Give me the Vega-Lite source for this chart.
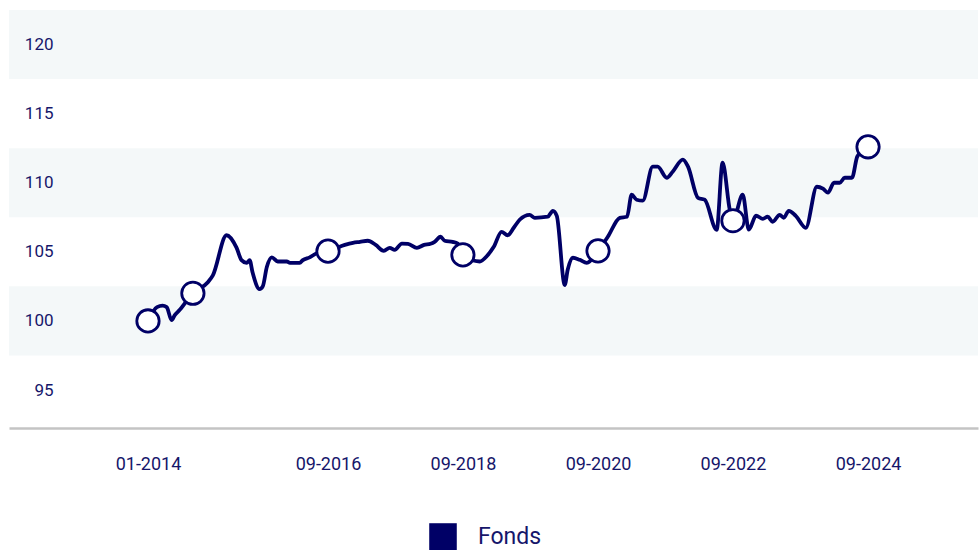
{
  "$schema": "https://vega.github.io/schema/vega-lite/v6.json",
  "width": 969,
  "height": 418,
  "autosize": {"type": "none"},
  "padding": {"left": 9, "top": 10, "right": 2, "bottom": 122},
  "background": "white",
  "config": {
    "view": {"stroke": null},
    "font": "Roboto",
    "axisY": {"domain": false, "ticks": false, "tickSize": 0, "grid": false, "labelPadding": -44, "labelFontSize": 17, "labelColor": "#16166a", "title": null, "labelOverlap": false},
    "axisX": {"domain": true, "domainColor": "#c4c4c4", "domainWidth": 2.5, "ticks": false, "tickSize": 0, "grid": false, "labelPadding": 27, "labelFontSize": 18, "labelColor": "#16166a", "title": null, "labelOverlap": false, "labelFlush": false}
  },
  "datasets": {
    "bands": [
      {"lo": 97.5, "hi": 102.5},
      {"lo": 107.5, "hi": 112.5},
      {"lo": 117.5, "hi": 122.5}
    ],
    "fund": [
      {"d": "2014-01-01", "v": 100.0, "s": "Fonds", "mk": 1},
      {"d": "2014-02-19", "v": 101.0, "s": "Fonds"},
      {"d": "2014-03-21", "v": 101.1, "s": "Fonds"},
      {"d": "2014-04-12", "v": 101.0, "s": "Fonds"},
      {"d": "2014-05-09", "v": 100.05, "s": "Fonds"},
      {"d": "2014-05-25", "v": 100.4, "s": "Fonds"},
      {"d": "2014-06-22", "v": 100.8, "s": "Fonds"},
      {"d": "2014-09-01", "v": 102.0, "s": "Fonds", "mk": 1},
      {"d": "2014-11-21", "v": 102.8, "s": "Fonds"},
      {"d": "2014-12-18", "v": 103.3, "s": "Fonds"},
      {"d": "2015-03-02", "v": 106.2, "s": "Fonds"},
      {"d": "2015-04-25", "v": 105.3, "s": "Fonds"},
      {"d": "2015-05-22", "v": 104.4, "s": "Fonds"},
      {"d": "2015-06-19", "v": 104.2, "s": "Fonds"},
      {"d": "2015-07-05", "v": 104.4, "s": "Fonds"},
      {"d": "2015-07-21", "v": 103.5, "s": "Fonds"},
      {"d": "2015-08-28", "v": 102.3, "s": "Fonds"},
      {"d": "2015-09-14", "v": 102.5, "s": "Fonds"},
      {"d": "2015-10-06", "v": 103.9, "s": "Fonds"},
      {"d": "2015-11-02", "v": 104.6, "s": "Fonds"},
      {"d": "2015-12-04", "v": 104.3, "s": "Fonds"},
      {"d": "2016-01-22", "v": 104.3, "s": "Fonds"},
      {"d": "2016-02-08", "v": 104.2, "s": "Fonds"},
      {"d": "2016-04-01", "v": 104.2, "s": "Fonds"},
      {"d": "2016-04-18", "v": 104.4, "s": "Fonds"},
      {"d": "2016-05-25", "v": 104.6, "s": "Fonds"},
      {"d": "2016-07-02", "v": 104.9, "s": "Fonds"},
      {"d": "2016-09-01", "v": 105.05, "s": "Fonds", "mk": 1},
      {"d": "2016-12-01", "v": 105.5, "s": "Fonds"},
      {"d": "2017-01-14", "v": 105.65, "s": "Fonds"},
      {"d": "2017-02-21", "v": 105.72, "s": "Fonds"},
      {"d": "2017-04-04", "v": 105.8, "s": "Fonds"},
      {"d": "2017-05-17", "v": 105.5, "s": "Fonds"},
      {"d": "2017-06-30", "v": 105.07, "s": "Fonds"},
      {"d": "2017-08-01", "v": 105.29, "s": "Fonds"},
      {"d": "2017-08-28", "v": 105.14, "s": "Fonds"},
      {"d": "2017-10-06", "v": 105.6, "s": "Fonds"},
      {"d": "2017-11-08", "v": 105.58, "s": "Fonds"},
      {"d": "2017-12-26", "v": 105.29, "s": "Fonds"},
      {"d": "2018-02-03", "v": 105.5, "s": "Fonds"},
      {"d": "2018-03-10", "v": 105.58, "s": "Fonds"},
      {"d": "2018-04-01", "v": 105.72, "s": "Fonds"},
      {"d": "2018-05-03", "v": 106.09, "s": "Fonds"},
      {"d": "2018-05-25", "v": 105.8, "s": "Fonds"},
      {"d": "2018-07-07", "v": 105.72, "s": "Fonds"},
      {"d": "2018-08-04", "v": 105.6, "s": "Fonds"},
      {"d": "2018-09-01", "v": 104.78, "s": "Fonds", "mk": 1},
      {"d": "2018-12-01", "v": 104.3, "s": "Fonds"},
      {"d": "2019-01-09", "v": 104.7, "s": "Fonds"},
      {"d": "2019-02-15", "v": 105.36, "s": "Fonds"},
      {"d": "2019-03-29", "v": 106.45, "s": "Fonds"},
      {"d": "2019-05-01", "v": 106.2, "s": "Fonds"},
      {"d": "2019-06-03", "v": 106.74, "s": "Fonds"},
      {"d": "2019-07-05", "v": 107.32, "s": "Fonds"},
      {"d": "2019-08-28", "v": 107.68, "s": "Fonds"},
      {"d": "2019-09-25", "v": 107.46, "s": "Fonds"},
      {"d": "2019-12-04", "v": 107.54, "s": "Fonds"},
      {"d": "2020-01-01", "v": 107.97, "s": "Fonds"},
      {"d": "2020-01-22", "v": 107.6, "s": "Fonds"},
      {"d": "2020-03-05", "v": 102.6, "s": "Fonds"},
      {"d": "2020-03-21", "v": 103.7, "s": "Fonds"},
      {"d": "2020-04-18", "v": 104.57, "s": "Fonds"},
      {"d": "2020-05-25", "v": 104.42, "s": "Fonds"},
      {"d": "2020-07-02", "v": 104.2, "s": "Fonds"},
      {"d": "2020-09-01", "v": 105.07, "s": "Fonds", "mk": 1},
      {"d": "2020-10-24", "v": 106.09, "s": "Fonds"},
      {"d": "2020-12-28", "v": 107.46, "s": "Fonds"},
      {"d": "2021-02-05", "v": 107.54, "s": "Fonds"},
      {"d": "2021-03-02", "v": 109.13, "s": "Fonds"},
      {"d": "2021-03-29", "v": 108.77, "s": "Fonds"},
      {"d": "2021-05-01", "v": 108.7, "s": "Fonds"},
      {"d": "2021-06-24", "v": 111.16, "s": "Fonds"},
      {"d": "2021-07-21", "v": 111.16, "s": "Fonds"},
      {"d": "2021-09-08", "v": 110.36, "s": "Fonds"},
      {"d": "2021-10-10", "v": 110.8, "s": "Fonds"},
      {"d": "2021-12-04", "v": 111.67, "s": "Fonds"},
      {"d": "2022-01-01", "v": 111.16, "s": "Fonds"},
      {"d": "2022-02-24", "v": 108.91, "s": "Fonds"},
      {"d": "2022-04-01", "v": 108.77, "s": "Fonds"},
      {"d": "2022-06-05", "v": 106.59, "s": "Fonds"},
      {"d": "2022-07-07", "v": 111.45, "s": "Fonds"},
      {"d": "2022-08-15", "v": 108.04, "s": "Fonds"},
      {"d": "2022-09-01", "v": 107.25, "s": "Fonds", "mk": 1},
      {"d": "2022-10-24", "v": 109.13, "s": "Fonds"},
      {"d": "2022-11-26", "v": 106.6, "s": "Fonds"},
      {"d": "2023-01-04", "v": 107.61, "s": "Fonds"},
      {"d": "2023-02-10", "v": 107.39, "s": "Fonds"},
      {"d": "2023-03-08", "v": 107.54, "s": "Fonds"},
      {"d": "2023-04-04", "v": 107.17, "s": "Fonds"},
      {"d": "2023-05-12", "v": 107.68, "s": "Fonds"},
      {"d": "2023-06-03", "v": 107.46, "s": "Fonds"},
      {"d": "2023-06-30", "v": 107.97, "s": "Fonds"},
      {"d": "2023-08-07", "v": 107.6, "s": "Fonds"},
      {"d": "2023-09-30", "v": 106.74, "s": "Fonds"},
      {"d": "2023-11-29", "v": 109.71, "s": "Fonds"},
      {"d": "2024-01-01", "v": 109.57, "s": "Fonds"},
      {"d": "2024-01-28", "v": 109.28, "s": "Fonds"},
      {"d": "2024-03-01", "v": 110.0, "s": "Fonds"},
      {"d": "2024-04-01", "v": 110.0, "s": "Fonds"},
      {"d": "2024-04-28", "v": 110.36, "s": "Fonds"},
      {"d": "2024-06-06", "v": 110.36, "s": "Fonds"},
      {"d": "2024-07-05", "v": 111.9, "s": "Fonds"},
      {"d": "2024-09-01", "v": 112.6, "s": "Fonds", "mk": 1}
    ]
  },
  "layer": [
    {
      "data": {"name": "bands"},
      "mark": {"type": "rect", "color": "#f4f8f9"},
      "encoding": {
        "y": {"field": "lo", "type": "quantitative", "scale": {"domain": [92.25, 122.5], "nice": false, "zero": false}, "axis": {"values": [95, 100, 105, 110, 115, 120], "zindex": 2}},
        "y2": {"field": "hi"}
      }
    },
    {
      "data": {"name": "fund"},
      "mark": {"type": "line", "interpolate": "monotone", "strokeWidth": 3.8, "strokeJoin": "round", "strokeCap": "round"},
      "encoding": {
        "x": {"field": "d", "type": "temporal", "scale": {"type": "utc", "domain": [{"year": 2011, "month": 12, "date": 11, "utc": true}, {"year": 2026, "month": 4, "date": 19, "utc": true}]}, "axis": {"zindex": 1, "format": "%m-%Y", "values": [{"year": 2014, "month": 1, "date": 1, "utc": true}, {"year": 2016, "month": 9, "date": 1, "utc": true}, {"year": 2018, "month": 9, "date": 1, "utc": true}, {"year": 2020, "month": 9, "date": 1, "utc": true}, {"year": 2022, "month": 9, "date": 1, "utc": true}, {"year": 2024, "month": 9, "date": 1, "utc": true}]}},
        "y": {"field": "v", "type": "quantitative", "axis": {"values": [95, 100, 105, 110, 115, 120], "zindex": 2}},
        "color": {"field": "s", "type": "nominal", "scale": {"range": ["#000066"]}, "legend": {"title": null, "orient": "none", "legendX": 420, "legendY": 513, "direction": "horizontal", "symbolType": "square", "symbolSize": 760, "symbolFillColor": "#000066", "symbolStrokeColor": "#000066", "symbolStrokeWidth": 0, "labelFontSize": 23, "labelColor": "#16166a", "labelOffset": 21}}
      }
    },
    {
      "data": {"name": "fund"},
      "transform": [{"filter": {"field": "mk", "equal": 1}}],
      "mark": {"type": "point", "shape": "circle", "filled": true, "fill": "white", "stroke": "#000066", "strokeWidth": 2.8, "size": 500, "opacity": 1},
      "encoding": {
        "x": {"field": "d", "type": "temporal"},
        "y": {"field": "v", "type": "quantitative"}
      }
    }
  ]
}
